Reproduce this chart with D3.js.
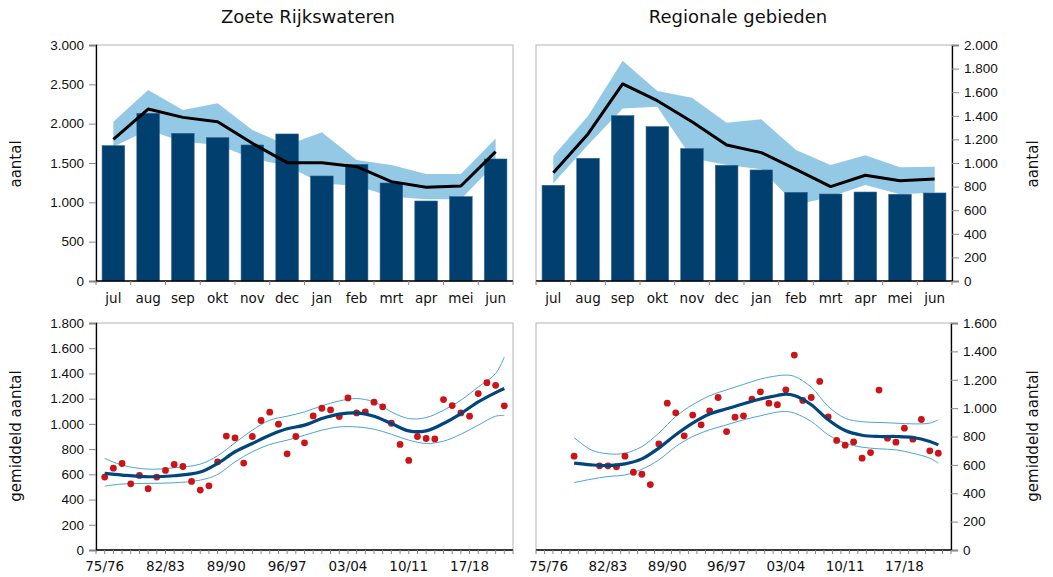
<!DOCTYPE html>
<html>
<head>
<meta charset="utf-8">
<script src="https://cdn.jsdelivr.net/npm/d3@7/dist/d3.min.js"></script>
<style>
  html, body { margin: 0; padding: 0; background: #fff; }
  svg { display: block; font-family: "DejaVu Sans", Verdana, sans-serif; }
  .tick text { fill: #111; }
</style>
</head>
<body>
<svg id="chart" width="1053" height="577"></svg>
<script>
// ---- Monthly counts (season Jul–Jun) ----
const months = ["jul", "aug", "sep", "okt", "nov", "dec", "jan", "feb", "mrt", "apr", "mei", "jun"];

// Zoete Rijkswateren
const rijkBars = [1720, 2131, 1877, 1822, 1729, 1869, 1335, 1483, 1246, 1017, 1072, 1551];
const rijkMean = [1801, 2186, 2080, 2025, 1750, 1504, 1504, 1453, 1263, 1191, 1208, 1644];
const rijkHigh = [2025, 2428, 2174, 2258, 1919, 1729, 1890, 1538, 1474, 1360, 1360, 1813];
const rijkLow  = [1708, 1919, 1771, 1729, 1559, 1462, 1241, 1212, 1072, 1038, 1038, 1496];

// Regionale gebieden
const regioBars = [811, 1040, 1401, 1308, 1122, 980, 941, 751, 737, 754, 735, 746];
const regioMean = [918, 1246, 1670, 1528, 1350, 1153, 1088, 946, 800, 896, 850, 864];
const regioHigh = [1059, 1398, 1867, 1610, 1554, 1342, 1370, 1110, 983, 1065, 963, 969];
const regioLow  = [828, 1153, 1461, 1477, 1040, 983, 946, 644, 715, 814, 735, 749];

// ---- Seasonal averages 1975/76 – 2021/22 ----
const seasonLabels = ["75/76", "82/83", "89/90", "96/97", "03/04", "10/11", "17/18"];
const seasonLabelIdx = [0, 7, 14, 21, 28, 35, 42];

const rijkSeason = [578, 649, 686, 525, 591, 486, 578, 631, 678, 662, 544, 475, 509, 699, 903,
  889, 689, 900, 1027, 1093, 998, 763, 900, 850, 1063, 1124, 1111, 1058, 1206, 1087, 1095, 1172,
  1135, 1005, 837, 710, 900, 884, 881, 1193, 1145, 1087, 1061, 1240, 1327, 1306, 1143];
const regioSeason = [null, null, null, 661, null, null, 593, 593, 586, 661, 548, 534, 461, 748, 1035,
  967, 805, 951, 882, 981, 1075, 835, 936, 946, 1064, 1115, 1035, 1024, 1129, 1374, 1054, 1075,
  1188, 939, 772, 739, 762, 647, 687, 1127, 788, 760, 859, 781, 920, 699, 682];

// Smoothed trend with confidence limits
const rijkTrendIdx = [0, 2, 5, 8, 11, 13, 15, 17, 19, 21, 23, 25, 27, 29, 31, 33, 35, 37, 39, 41, 43, 45, 46];
const rijkTrend = [607, 594, 581, 589, 618, 686, 779, 845, 910, 961, 990, 1042, 1077, 1087, 1061, 1003, 945, 945, 1003, 1082, 1174, 1248, 1280];
const rijkUpper = [726, 673, 641, 652, 681, 747, 850, 950, 1029, 1061, 1095, 1143, 1182, 1201, 1174, 1095, 1042, 1050, 1108, 1188, 1293, 1399, 1531];
const rijkLower = [507, 523, 528, 533, 554, 599, 699, 779, 837, 871, 910, 950, 976, 976, 958, 918, 871, 845, 863, 918, 990, 1061, 1066];

const regioTrendIdx = [3, 5, 7, 9, 11, 13, 15, 17, 19, 21, 23, 25, 27, 28, 29, 31, 33, 35, 37, 39, 41, 43, 45, 46];
const regioTrend = [612, 600, 595, 607, 642, 718, 812, 894, 958, 995, 1031, 1064, 1089, 1099, 1089, 1024, 918, 842, 809, 800, 800, 793, 765, 741];
const regioUpper = [793, 706, 678, 682, 729, 824, 941, 1024, 1087, 1129, 1167, 1205, 1228, 1233, 1224, 1148, 1012, 929, 904, 899, 894, 889, 894, 918];
const regioLower = [475, 499, 518, 529, 569, 635, 729, 800, 847, 882, 918, 946, 972, 976, 965, 906, 812, 753, 725, 713, 706, 682, 647, 612];

// ---- Styling ----
const C = {
  bar: "#003f6e",
  band: "#94c9e6",
  mean: "#000000",
  dot: "#cc1417",
  trend: "#00467c",
  limit: "#4aa6d6",
  frame: "#b3b3b3",
  axis: "#000000"
};
const TICK_FONT = 13.5;

const nl = d3.formatLocale({ decimal: ",", thousands: ".", grouping: [3], currency: ["€", ""] });
const fmt = nl.format(",d");

const svg = d3.select("#chart");

// Titles
svg.append("text").attr("x", 308).attr("y", 23).attr("text-anchor", "middle")
  .attr("font-size", 18).attr("fill", "#111").text("Zoete Rijkswateren");
svg.append("text").attr("x", 738).attr("y", 23).attr("text-anchor", "middle")
  .attr("font-size", 18).attr("fill", "#111").text("Regionale gebieden");

function yTitle(x, y, label) {
  svg.append("text")
    .attr("transform", `translate(${x},${y}) rotate(-90)`)
    .attr("text-anchor", "middle").attr("font-size", 15).attr("fill", "#111")
    .text(label);
}
yTitle(21, 164, "aantal");
yTitle(21, 436, "gemiddeld aantal");
yTitle(1038, 164, "aantal");
yTitle(1038, 436, "gemiddeld aantal");

function frame(g, b) {
  // light outline of the plot area; value and category axes are drawn in black on top
  g.append("rect").attr("x", b.x0).attr("y", b.y0)
    .attr("width", b.x1 - b.x0).attr("height", b.y1 - b.y0)
    .attr("fill", "none").attr("stroke", C.frame).attr("stroke-width", 1);
}

function yAxis(g, b, y, ticks, side) {
  const ax = side === "left" ? d3.axisLeft(y) : d3.axisRight(y);
  ax.tickValues(ticks).tickFormat(fmt).tickSize(7).tickPadding(5);
  const a = g.append("g")
    .attr("transform", `translate(${side === "left" ? b.x0 : b.x1},0)`)
    .call(ax);
  a.select(".domain").attr("stroke", C.axis).attr("stroke-width", 1.3);
  a.selectAll(".tick line").attr("stroke", "#888");
  a.selectAll(".tick text").attr("font-size", TICK_FONT);
}

// ---- Monthly bar panel ----
function barPanel(b, bars, mean, high, low, yMax, yTicks, side) {
  const g = svg.append("g");
  frame(g, b);
  const x = d3.scaleBand().domain(months).range([b.x0, b.x1]).paddingInner(0.35).paddingOuter(0.175);
  const y = d3.scaleLinear().domain([0, yMax]).range([b.y1, b.y0]);
  const cx = m => x(m) + x.bandwidth() / 2;

  g.append("path")
    .datum(months.map((m, i) => ({ m, hi: high[i], lo: low[i] })))
    .attr("fill", C.band)
    .attr("d", d3.area().x(d => cx(d.m)).y0(d => y(d.lo)).y1(d => y(d.hi)));

  g.selectAll("rect.bar").data(months.map((m, i) => ({ m, v: bars[i] }))).join("rect")
    .attr("class", "bar")
    .attr("x", d => x(d.m)).attr("width", x.bandwidth())
    .attr("y", d => y(d.v)).attr("height", d => y(0) - y(d.v))
    .attr("fill", C.bar).attr("stroke", "#2b6491").attr("stroke-width", 0.6);

  g.append("path")
    .datum(months.map((m, i) => ({ m, v: mean[i] })))
    .attr("fill", "none").attr("stroke", C.mean).attr("stroke-width", 3)
    .attr("stroke-linejoin", "round")
    .attr("d", d3.line().x(d => cx(d.m)).y(d => y(d.v)));

  yAxis(g, b, y, yTicks, side);

  // category axis: ticks on the boundaries, labels centred in each band
  const step = x.step();
  const bounds = d3.range(months.length + 1).map(i => b.x0 + i * step);
  g.append("line").attr("x1", b.x0).attr("x2", b.x1).attr("y1", b.y1).attr("y2", b.y1)
    .attr("stroke", C.axis).attr("stroke-width", 1.3);
  g.selectAll("line.ct").data(bounds).join("line").attr("class", "ct")
    .attr("x1", d => d).attr("x2", d => d).attr("y1", b.y1).attr("y2", b.y1 + 4)
    .attr("stroke", "#888");
  g.selectAll("text.cl").data(months).join("text").attr("class", "cl")
    .attr("x", d => cx(d)).attr("y", b.y1 + 22).attr("text-anchor", "middle")
    .attr("font-size", TICK_FONT).attr("fill", "#111").text(d => d);
}

// ---- Long-term trend panel ----
function trendPanel(b, values, tIdx, trend, upper, lower, xDom, yMax, yTicks, side) {
  const g = svg.append("g");
  frame(g, b);
  const x = d3.scaleLinear().domain(xDom).range([b.x0, b.x1]);
  const y = d3.scaleLinear().domain([0, yMax]).range([b.y1, b.y0]);

  const curve = d3.line().curve(d3.curveCatmullRom.alpha(0.5)).x(d => x(d[0])).y(d => y(d[1]));
  [upper, lower].forEach(arr => {
    g.append("path").datum(tIdx.map((t, i) => [t, arr[i]]))
      .attr("fill", "none").attr("stroke", C.limit).attr("stroke-width", 1).attr("d", curve);
  });

  g.selectAll("circle").data(values.map((v, i) => [i, v]).filter(d => d[1] != null)).join("circle")
    .attr("cx", d => x(d[0])).attr("cy", d => y(d[1])).attr("r", 3.4)
    .attr("fill", C.dot);

  g.append("path").datum(tIdx.map((t, i) => [t, trend[i]]))
    .attr("fill", "none").attr("stroke", C.trend).attr("stroke-width", 3.2).attr("d", curve);

  yAxis(g, b, y, yTicks, side);

  // season axis: a tick for every season, labels every seventh season
  const tickVals = d3.range(xDom[0], xDom[1] + 0.001, 1);
  g.append("line").attr("x1", b.x0).attr("x2", b.x1).attr("y1", b.y1).attr("y2", b.y1)
    .attr("stroke", C.axis).attr("stroke-width", 1.3);
  g.selectAll("line.st").data(tickVals).join("line").attr("class", "st")
    .attr("x1", d => x(d)).attr("x2", d => x(d)).attr("y1", b.y1).attr("y2", b.y1 + 4)
    .attr("stroke", "#888");
  g.selectAll("text.sl").data(seasonLabels).join("text").attr("class", "sl")
    .attr("x", (d, i) => x(seasonLabelIdx[i])).attr("y", b.y1 + 21).attr("text-anchor", "middle")
    .attr("font-size", TICK_FONT).attr("fill", "#111").text(d => d);
}

barPanel({ x0: 96, x1: 513, y0: 45, y1: 281 }, rijkBars, rijkMean, rijkHigh, rijkLow,
  3000, d3.range(0, 3001, 500), "left");
barPanel({ x0: 536, x1: 952, y0: 45, y1: 281 }, regioBars, regioMean, regioHigh, regioLow,
  2000, d3.range(0, 2001, 200), "right");

trendPanel({ x0: 96, x1: 513, y0: 323, y1: 550 }, rijkSeason, rijkTrendIdx, rijkTrend, rijkUpper, rijkLower,
  [-1, 47], 1800, d3.range(0, 1801, 200), "left");
trendPanel({ x0: 536, x1: 951, y0: 323, y1: 550 }, regioSeason, regioTrendIdx, regioTrend, regioUpper, regioLower,
  [-1.5, 47.5], 1600, d3.range(0, 1601, 200), "right");
</script>
</body>
</html>
